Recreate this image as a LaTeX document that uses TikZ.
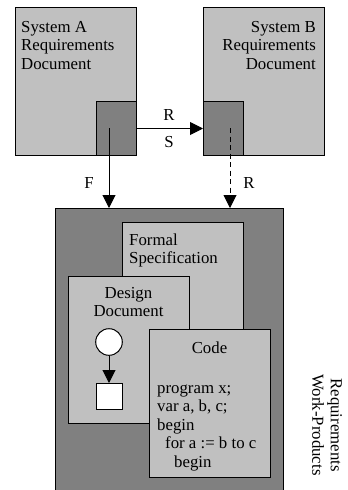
\documentclass[tikz,border=0pt]{standalone}
\usepackage{fontspec}
\setmainfont{Liberation Serif}
\usetikzlibrary{arrows.meta}
\definecolor{paper}{HTML}{C0C0C0}
\definecolor{shade}{HTML}{808080}
\tikzset{
  doc/.style={draw, line width=1pt, fill=paper, anchor=north west, inner sep=0pt},
  port/.style={draw, line width=1pt, fill=shade, anchor=north west, inner sep=0pt},
  lbl/.style={font=\fontsize{16.8}{18.6}\selectfont, inner sep=0pt},
  arr/.style={-{Triangle[length=13pt,width=13pt]}, line width=1pt},
}
\begin{document}
\begin{tikzpicture}[x=1pt, y=-1pt]
  \clip (0,0) rectangle (348,490);
  \fill[white] (0,0) rectangle (348,490);

  % requirements documents of the two systems
  % (multi-line labels are placed by the baseline of their last line)
  \node[doc, minimum width=121pt, minimum height=148pt] (boxA) at (15,7) {};
  \node[port, minimum width=40pt, minimum height=54pt] (portA) at (96,101) {};
  \node[doc, minimum width=121pt, minimum height=148pt] (boxB) at (203,7) {};
  \node[port, minimum width=40pt, minimum height=54pt] (portB) at (203,101) {};
  \node[lbl, align=left, anchor=base west] (txtA) at (21,69.2)
    {System A\\Requirements\\Document};
  \node[lbl, align=right, anchor=base east] (txtB) at (316,69.2)
    {System B\\Requirements\\Document};

  % work-products container
  \node[port, minimum width=228pt, minimum height=290pt] (wp) at (55,208) {};
  \node[doc, minimum width=121pt, minimum height=150pt] (formal) at (122,222) {};
  \node[lbl, align=left, anchor=base west] (txtF) at (129,263.6)
    {Formal\\Specification};
  \node[doc, minimum width=121pt, minimum height=147pt] (design) at (68,276) {};
  \node[lbl, align=center, anchor=base] (txtD) at (128.5,316.6)
    {Design\\Document};
  \node[circle, draw, line width=1pt, fill=white, minimum size=26.6pt, inner sep=0pt] (state) at (109,342) {};
  \node[draw, line width=1pt, fill=white, minimum size=26pt, inner sep=0pt] (act) at (109,396.5) {};
  \draw[arr] (state) -- (act);

  \node[doc, minimum width=121pt, minimum height=148pt] (code) at (149,329) {};
  \node[lbl, anchor=base] (txtC) at (209.5,353) {Code};
  \node[lbl, align=left, anchor=base west] (prog) at (157,467.4)
    {program x;\\var a, b, c;\\begin\\\hspace*{8pt}for a := b to c\\\hspace*{17pt}begin};

  \node[lbl, align=center, rotate=-90] (wpname) at (327,425)
    {Requirements\\Work-Products};

  % traceability links
  \draw[arr] (portA.east) -- (portB.west);
  \node[lbl, anchor=base] (rAB) at (169,120) {R};
  \node[lbl, anchor=base] (sAB) at (169,147) {S};

  \coordinate (fromA) at (109,128);
  \coordinate (fromB) at (230,128);
  \draw[arr] (fromA) -- (fromA |- wp.north);
  \draw[arr, dash pattern=on 5pt off 3.5pt] (fromB) -- (fromB |- wp.north);
  \node[lbl, anchor=base] (fA) at (89,188) {F};
  \node[lbl, anchor=base] (rB) at (249,188) {R};
\end{tikzpicture}
\end{document}
